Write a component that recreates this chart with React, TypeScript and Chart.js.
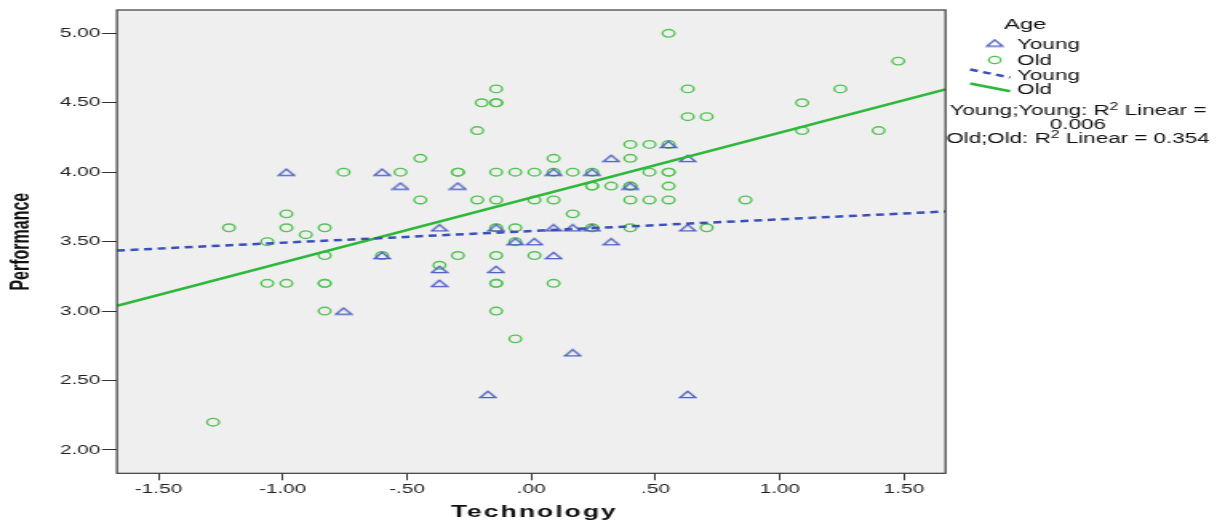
import React, { useEffect, useRef } from "react";
import { Chart, registerables } from "chart.js";

Chart.register(...registerables);

// ---------- data ----------
const youngTech = [-0.985, -0.6, -0.6, -0.755, -0.526, -0.295, -0.369, -0.369, -0.369, -0.141, -0.141, -0.174, -0.064, 0.013, 0.09, 0.09, 0.09, 0.167, 0.167, 0.245, 0.245, 0.322, 0.322, 0.399, 0.553, 0.63, 0.63, 0.63];
const youngPerf = [4.0, 4.0, 3.4, 3.0, 3.9, 3.9, 3.6, 3.3, 3.2, 3.6, 3.3, 2.4, 3.5, 3.5, 4.0, 3.6, 3.4, 3.6, 2.7, 4.0, 3.6, 4.1, 3.5, 3.9, 4.2, 4.1, 3.6, 2.4];

const oldTech = [-1.28, -1.216, -1.062, -1.062, -0.985, -0.985, -0.985, -0.907, -0.831, -0.831, -0.831, -0.831, -0.831, -0.755, -0.6, -0.526, -0.446, -0.446, -0.369, -0.295, -0.295, -0.295, -0.217, -0.199, -0.217, -0.141, -0.141, -0.141, -0.141, -0.141, -0.141, -0.141, -0.141, -0.141, -0.141, -0.064, -0.064, -0.064, -0.064, 0.013, 0.013, 0.013, 0.09, 0.09, 0.09, 0.09, 0.167, 0.167, 0.245, 0.245, 0.245, 0.245, 0.322, 0.399, 0.399, 0.399, 0.399, 0.399, 0.399, 0.476, 0.476, 0.476, 0.553, 0.553, 0.553, 0.553, 0.553, 0.553, 0.63, 0.63, 0.706, 0.706, 0.862, 1.09, 1.09, 1.244, 1.398, 1.477];
const oldPerf = [2.2, 3.6, 3.5, 3.2, 3.7, 3.6, 3.2, 3.55, 3.6, 3.4, 3.2, 3.2, 3.0, 4.0, 3.4, 4.0, 4.1, 3.8, 3.33, 4.0, 4.0, 3.4, 4.3, 4.5, 3.8, 4.6, 4.5, 4.5, 4.0, 3.8, 3.6, 3.4, 3.2, 3.2, 3.0, 4.0, 3.6, 3.5, 2.8, 4.0, 3.8, 3.4, 4.1, 4.0, 3.8, 3.2, 4.0, 3.7, 4.0, 3.9, 3.9, 3.6, 3.9, 4.2, 4.1, 3.9, 3.9, 3.8, 3.6, 4.2, 4.0, 3.8, 5.0, 4.2, 4.0, 4.0, 3.9, 3.8, 4.6, 4.4, 4.4, 3.6, 3.8, 4.5, 4.3, 4.6, 4.3, 4.8];

const fitX = [-1.667, 1.667];
const youngFit = [3.436, 3.717];
const oldFit = [3.038, 4.597];

const xTickValues = [-1.5, -1, -0.5, 0, 0.5, 1, 1.5];
const xTickLabels = ["-1.50", "-1.00", "-.50", ".00", ".50", "1.00", "1.50"];
const yTickValues = [2, 2.5, 3, 3.5, 4, 4.5, 5];
const yTickLabels = ["2.00", "2.50", "3.00", "3.50", "4.00", "4.50", "5.00"];

const xTitle = "Technology";
const yTitle = "Performance";
const legendTitle = "Age";
const groupNames = ["Young", "Old"];
const r2Young = "0.006";
const r2Old = "0.354";

// ---------- styling ----------
const FONT = '"Liberation Sans", Arial, sans-serif';
const DESIGN_W = 766;
const H = 523;
const CSS_W = 1225;
const YOUNG_PT = "#4a5cc0";
const YOUNG_LINE = "#3a50b6";
const OLD_PT = "#55c455";
const OLD_LINE = "#2db83b";

function makeTriangle(): HTMLCanvasElement {
  const c = document.createElement("canvas");
  c.width = 12;
  c.height = 9;
  const g = c.getContext("2d")!;
  g.strokeStyle = YOUNG_PT;
  g.lineWidth = 1.25;
  g.beginPath();
  g.moveTo(6, 1.3);
  g.lineTo(10.8, 7.5);
  g.lineTo(1.2, 7.5);
  g.closePath();
  g.stroke();
  return c;
}

function toPts(xs: number[], ys: number[]) {
  return xs.map((x, i) => ({ x, y: ys[i] }));
}

export default function App() {
  const ref = useRef<HTMLCanvasElement>(null);

  useEffect(() => {
    document.body.style.margin = "0";
    const canvas = ref.current!;
    const tri = makeTriangle();

    const drawRich = (ctx: CanvasRenderingContext2D, parts: { t: string; sup?: boolean }[], cx: number, y: number) => {
      const base = `14px ${FONT}`;
      const sup = `10px ${FONT}`;
      let total = 0;
      parts.forEach((p) => {
        ctx.font = p.sup ? sup : base;
        total += ctx.measureText(p.t).width;
      });
      let x = cx - total / 2;
      ctx.textAlign = "left";
      ctx.textBaseline = "middle";
      parts.forEach((p) => {
        ctx.font = p.sup ? sup : base;
        ctx.fillText(p.t, x, p.sup ? y - 4 : y);
        x += ctx.measureText(p.t).width;
      });
    };

    const decor = {
      id: "decor",
      beforeDraw(chart: any) {
        const { ctx, chartArea: a, width, height } = chart;
        ctx.save();
        ctx.fillStyle = "#ffffff";
        ctx.fillRect(0, 0, width, height);
        ctx.fillStyle = "#efefef";
        ctx.fillRect(a.left, a.top, a.right - a.left, a.bottom - a.top);
        ctx.restore();
      },
      afterDraw(chart: any) {
        const { ctx, chartArea: a } = chart;
        ctx.save();
        // frame
        ctx.strokeStyle = "#3a3a3a";
        ctx.lineWidth = 1.2;
        ctx.strokeRect(a.left, a.top, a.right - a.left, a.bottom - a.top);

        // x title
        ctx.fillStyle = "#111";
        ctx.font = `bold 16.5px ${FONT}`;
        (ctx as any).letterSpacing = "1.3px";
        ctx.textAlign = "center";
        ctx.textBaseline = "middle";
        ctx.fillText(xTitle, (a.left + a.right) / 2 + 2, 512.5);
        (ctx as any).letterSpacing = "0px";

        // legend
        ctx.fillStyle = "#111";
        ctx.font = `15px ${FONT}`;
        ctx.textAlign = "center";
        ctx.textBaseline = "middle";
        ctx.fillText(legendTitle, 641, 25);

        ctx.font = `14px ${FONT}`;
        ctx.textAlign = "left";
        ctx.drawImage(tri, 622 - tri.width / 2, 43 - tri.height / 2);
        ctx.fillText(groupNames[0], 636, 45);

        ctx.strokeStyle = OLD_PT;
        ctx.lineWidth = 1.3;
        ctx.beginPath();
        ctx.arc(622, 60, 3.7, 0, Math.PI * 2);
        ctx.stroke();
        ctx.fillText(groupNames[1], 636, 61);

        ctx.strokeStyle = YOUNG_LINE;
        ctx.lineWidth = 2.5;
        ctx.setLineDash([5, 3.5]);
        ctx.beginPath();
        ctx.moveTo(606.6, 69.5);
        ctx.lineTo(631.6, 77.5);
        ctx.stroke();
        ctx.setLineDash([]);
        ctx.fillText(groupNames[0], 636, 76);

        ctx.strokeStyle = OLD_LINE;
        ctx.beginPath();
        ctx.moveTo(606.6, 83.5);
        ctx.lineTo(631.6, 91.2);
        ctx.stroke();
        ctx.fillText(groupNames[1], 636, 90);

        drawRich(ctx, [{ t: `${groupNames[0]};${groupNames[0]}: R` }, { t: "2", sup: true }, { t: " Linear =" }], 674, 111);
        drawRich(ctx, [{ t: r2Young }], 674, 125);
        drawRich(ctx, [{ t: `${groupNames[1]};${groupNames[1]}: R` }, { t: "2", sup: true }, { t: ` Linear = ${r2Old}` }], 674, 139);
        ctx.restore();
      },
    };

    const chart = new Chart(canvas, {
      type: "scatter",
      data: {
        datasets: [
          {
            label: "Young fit",
            data: toPts(fitX, youngFit),
            showLine: true,
            borderColor: YOUNG_LINE,
            borderWidth: 2.5,
            borderDash: [5, 3.5],
            pointRadius: 0,
            fill: false,
            order: 0,
          },
          {
            label: "Old fit",
            data: toPts(fitX, oldFit),
            showLine: true,
            borderColor: OLD_LINE,
            borderWidth: 2.5,
            pointRadius: 0,
            fill: false,
            order: 0,
          },
          {
            label: groupNames[1],
            data: toPts(oldTech, oldPerf),
            pointStyle: "circle",
            pointRadius: 3.8,
            pointBorderWidth: 1.35,
            pointBorderColor: OLD_PT,
            pointBackgroundColor: "rgba(0,0,0,0)",
            order: 2,
          },
          {
            label: groupNames[0],
            data: toPts(youngTech, youngPerf),
            pointStyle: tri as any,
            pointRadius: 4,
            order: 1,
          },
        ],
      },
      options: {
        animation: false,
        responsive: false,
        devicePixelRatio: 1,
        events: [],
        layout: { padding: { left: 0, top: 10, right: DESIGN_W - 591.2, bottom: 0 } },
        plugins: { legend: { display: false }, tooltip: { enabled: false } },
        scales: {
          x: {
            type: "linear",
            min: -1.667,
            max: 1.667,
            afterBuildTicks: (s: any) => {
              s.ticks = xTickValues.map((v) => ({ value: v }));
            },
            afterFit: (s: any) => {
              s.height = H - 473.3;
            },
            ticks: {
              autoSkip: false,
              maxRotation: 0,
              padding: 1,
              color: "#222",
              font: { family: FONT, size: 13 },
              callback: (v: any) => {
                const i = xTickValues.indexOf(Number(v));
                return i >= 0 ? xTickLabels[i] : "";
              },
            },
            grid: { drawOnChartArea: false, drawTicks: true, tickLength: 7, tickColor: "#333", tickWidth: 1 },
            border: { display: false },
            title: { display: false },
          },
          y: {
            type: "linear",
            min: 1.832,
            max: 5.168,
            afterBuildTicks: (s: any) => {
              s.ticks = yTickValues.map((v) => ({ value: v }));
            },
            afterFit: (s: any) => {
              s.width = 73.1;
            },
            ticks: {
              autoSkip: false,
              padding: 1,
              color: "#222",
              font: { family: FONT, size: 13 },
              callback: (v: any) => {
                const i = yTickValues.indexOf(Number(v));
                return i >= 0 ? yTickLabels[i] : "";
              },
            },
            grid: { drawOnChartArea: false, drawTicks: true, tickLength: 9.4, tickColor: "#333", tickWidth: 1 },
            border: { display: false },
            title: {
              display: true,
              text: yTitle,
              color: "#111",
              font: { family: FONT, size: 16, weight: "bold" },
              padding: { top: 4.4, bottom: 0 },
            },
          },
        },
      },
      plugins: [decor],
    });

    return () => chart.destroy();
  }, []);

  return (
    <div style={{ position: "absolute", left: 0, top: 0, width: CSS_W, height: H, overflow: "hidden", background: "#fff" }}>
      <canvas
        ref={ref}
        width={DESIGN_W}
        height={H}
        style={{ display: "block", width: `${CSS_W}px`, height: `${H}px` }}
      />
    </div>
  );
}
